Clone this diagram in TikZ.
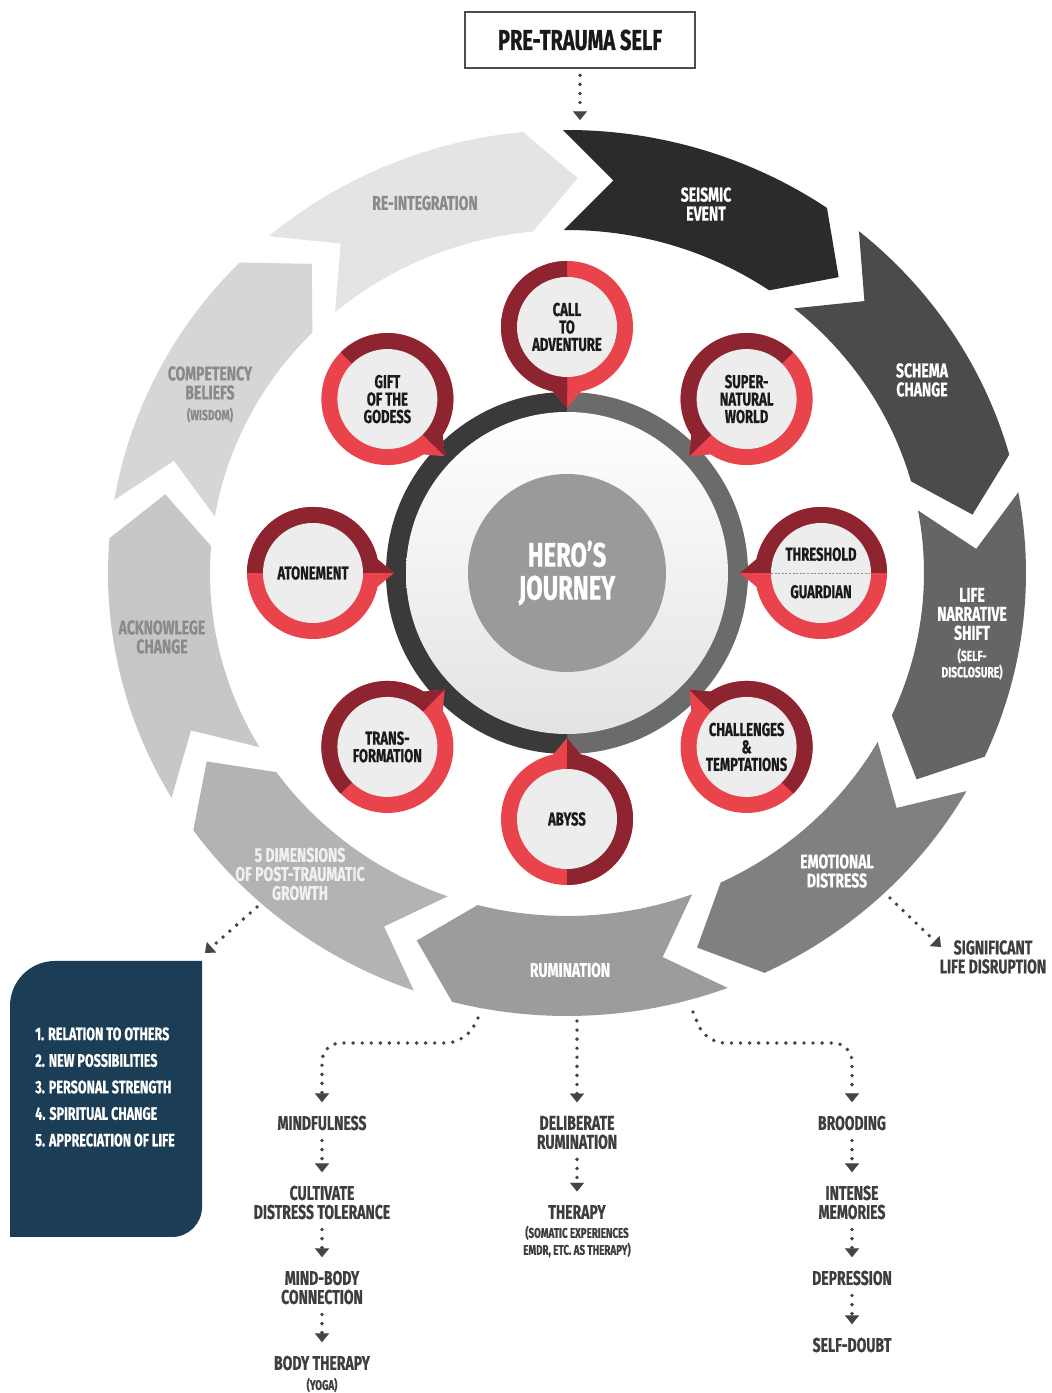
\documentclass[tikz,border=0pt]{standalone}
\usepackage{fontspec}
\setmainfont{Fira Sans}[FakeStretch=0.7, BoldFeatures={FakeBold=0.6}]
\usetikzlibrary{arrows.meta}
\definecolor{cvA}{HTML}{2B2B2B}
\definecolor{cvB}{HTML}{4B4B4B}
\definecolor{cvC}{HTML}{656565}
\definecolor{cvD}{HTML}{808080}
\definecolor{cvE}{HTML}{9C9C9C}
\definecolor{cvF}{HTML}{B3B3B3}
\definecolor{cvG}{HTML}{C7C7C7}
\definecolor{cvH}{HTML}{D6D6D6}
\definecolor{cvI}{HTML}{E4E4E4}
\definecolor{txgray}{HTML}{8A8A8A}
\definecolor{rbright}{HTML}{E9434C}
\definecolor{rdark}{HTML}{8D2430}
\definecolor{disk}{HTML}{EDEDED}
\definecolor{ringL}{HTML}{3A3A3A}
\definecolor{ringR}{HTML}{6B6B6B}
\definecolor{heroG}{HTML}{9A9A9A}
\definecolor{navy}{HTML}{1B3D55}
\definecolor{arrcol}{HTML}{454545}
\definecolor{btcol}{HTML}{3E3E3E}
\definecolor{ctext}{HTML}{1A1A1A}

\newcommand{\redcirc}[5]{%
 \pgfmathsetmacro\rcX{567+254*cos(#2)}%
 \pgfmathsetmacro\rcY{820+246*sin(#2)}%
 \pgfmathsetmacro\rcT{#2+180}%
 \pgfmathsetmacro\rcP{#2+200}%
 \pgfmathsetmacro\rcM{#2+160}%
 \pgfmathsetmacro\rcD{#2+180+#4}%
 \pgfmathsetmacro\rcE{#3+180}%
 \begin{scope}[shift={(\rcX,\rcY)}]
  \fill[rbright] (0,0) circle[radius=66];
  \fill[rbright] (\rcT:81) -- (\rcP:60) -- (\rcM:60) -- cycle;
  \fill[rdark] (0,0) -- (#3:66) arc[start angle=#3,end angle=\rcE,radius=66] -- cycle;
  \fill[rdark] (0,0) -- (\rcT:81) -- (\rcD:60) -- cycle;
  \fill[disk] (0,0) circle[radius=50];
 \end{scope}
 \node[clbl] (#1) at (\rcX,\rcY) {#5};
}

\begin{document}
\begin{tikzpicture}[x=0.75pt,y=0.75pt,
  chl/.style={font=\bfseries\fontsize{15}{14.25}\selectfont, align=center, inner sep=0pt, text=white},
  chs/.style={font=\bfseries\fontsize{11}{10.5}\selectfont, align=center, inner sep=0pt, text=white},
  clbl/.style={font=\bfseries\fontsize{14}{13.1}\selectfont, align=center, inner sep=0pt, text=ctext},
  hero/.style={font=\bfseries\fontsize{25.5}{24.75}\selectfont, align=center, inner sep=0pt, text=white},
  btxt/.style={font=\bfseries\fontsize{15}{14.25}\selectfont, align=center, inner sep=0pt, text=btcol},
  bsm/.style={font=\bfseries\fontsize{10.5}{12.75}\selectfont, align=center, inner sep=0pt, text=btcol},
  lst/.style={font=\bfseries\fontsize{13.5}{19.9}\selectfont, align=left, inner sep=0pt, text=white},
  prebox/.style={draw=black!70, line width=1pt, minimum width=172.5pt, minimum height=42pt, inner sep=0pt,
     font=\bfseries\fontsize{21.5}{24}\selectfont, text=black!90},
  dotarr/.style={draw=arrcol, line width=2.9pt, line cap=round, dash pattern=on 0pt off 6.8pt,
     -{Triangle[width=10.5pt,length=6.5pt,line width=0.01pt]}},
  vdot/.style={dotarr, shorten <=7.5pt, shorten >=10pt}
]
\useasboundingbox (0,0) rectangle (1052,1393);
\fill[white] (0,0) rectangle (1052,1393);

% ---- outer chevron ring
\begin{scope}[shift={(567,820)}]
\foreach \a/\col in {90.5/cvA,50.5/cvB,10.5/cvC,-29.5/cvD,-69.5/cvE,-109.5/cvF,-149.5/cvG,-189.5/cvH,-229.5/cvI}{
 \pgfmathsetmacro\cvb{\a-35}
 \pgfmathsetmacro\cvt{\a-42}
 \pgfmathsetmacro\cvn{\a-7}
 \fill[\col] (\a:459 and 443) arc[start angle=\a,end angle=\cvb,x radius=459,y radius=443]
   -- (\cvt:410 and 395) -- (\cvb:357 and 343)
   arc[start angle=\cvb,end angle=\a,x radius=357,y radius=343]
   -- (\cvn:410 and 395) -- cycle;
}
\end{scope}

% chevron labels
\node[chl] (seis) at (706,1189) {SEISMIC\\EVENT};
\node[chl] (schema) at (922,1013) {SCHEMA\\CHANGE};
\node[chl] (life) at (972,779) {LIFE\\NARRATIVE\\SHIFT};
\node[chs] (lifes) at (972,729) {(SELF-\\DISCLOSURE)};
\node[chl] (emo) at (837,522) {EMOTIONAL\\DISTRESS};
\node[chl] (rum) at (570,423) {RUMINATION};
\node[chl, text=white!94!black] (dim) at (300,519) {5 DIMENSIONS\\OF POST-TRAUMATIC\\GROWTH};
\node[chl, text=txgray] (ack) at (162,756) {ACKNOWLEGE\\CHANGE};
\node[chl, text=txgray] (comp) at (210,1010) {COMPETENCY\\BELIEFS};
\node[chs, text=txgray] (wis) at (210,978) {(WISDOM)};
\node[chl, text=txgray] (reint) at (425,1190) {RE-INTEGRATION};

% ---- central ring
\fill[ringR] (567,1001) arc[start angle=90,end angle=-90,radius=181] -- cycle;
\fill[ringL] (567,1001) arc[start angle=90,end angle=270,radius=181] -- cycle;
\shade[top color=white, bottom color=black!11] (567,820) circle[radius=161];
\fill[heroG] (567,820) circle[radius=99];
\node[hero] (heroj) at (567,820) {HERO’S\\JOURNEY};

% ---- red circles
\redcirc{call}{90}{90}{-20}{CALL\\TO\\ADVENTURE}
\redcirc{super}{45}{45}{-20}{SUPER-\\NATURAL\\WORLD}
\redcirc{thresh}{0}{0}{-20}{THRESHOLD\\[15pt]GUARDIAN}
\redcirc{chall}{-45}{-45}{-20}{CHALLENGES\\\&\\TEMPTATIONS}
\redcirc{abyss}{-90}{-90}{-20}{ABYSS}
\redcirc{trans}{-135}{45}{20}{TRANS-\\FORMATION}
\redcirc{aton}{180}{0}{20}{ATONEMENT}
\redcirc{gift}{135}{-45}{20}{GIFT\\OF THE\\GODESS}
\draw[black!45, line width=0.5pt, dash pattern=on 1.5pt off 1.2pt] (771,820) -- (871,820);

% ---- pre-trauma box
\node[prebox] (pre) at (580,1353) {PRE-TRAUMA SELF};
\coordinate (seisTop) at (580,1273);
\draw[dotarr, shorten <=5pt] (pre.south) -- (seisTop);

% ---- navy box
\fill[navy] (10,156) -- (10,387) arc[start angle=180,end angle=90,radius=45] -- (202,432)
  -- (202,186) arc[start angle=0,end angle=-90,radius=30] -- cycle;
\node[lst, anchor=west] (dims) at (35,306) {1. RELATION TO OTHERS\\2. NEW POSSIBILITIES\\3. PERSONAL STRENGTH\\4. SPIRITUAL CHANGE\\5. APPRECIATION OF LIFE};
\coordinate (dimA) at (257,486);
\coordinate (dimB) at (205,440);
\draw[dotarr] (dimA) -- (dimB);

% ---- significant life disruption
\node[btxt] (sig) at (993,436) {SIGNIFICANT\\LIFE DISRUPTION};
\coordinate (emoA) at (890,495);
\coordinate (emoB) at (941,446);
\draw[dotarr] (emoA) -- (emoB);

% ---- bottom columns
\node[btxt] (mindf) at (322,270) {MINDFULNESS};
\node[btxt] (cult) at (322,190.5) {CULTIVATE\\DISTRESS TOLERANCE};
\node[btxt] (mbody) at (322,105.5) {MIND-BODY\\CONNECTION};
\node[btxt] (bther) at (322,30) {BODY THERAPY};
\node[bsm] (yoga) at (322,8) {(YOGA)};
\node[btxt] (delib) at (577,260.5) {DELIBERATE\\RUMINATION};
\node[btxt] (ther) at (577,181) {THERAPY};
\node[bsm] (somat) at (577,151.5) {(SOMATIC EXPERIENCES\\EMDR, ETC. AS THERAPY)};
\node[btxt] (brood) at (852,270) {BROODING};
\node[btxt] (inten) at (852,190.5) {INTENSE\\MEMORIES};
\node[btxt] (depr) at (852,115) {DEPRESSION};
\node[btxt] (sdoubt) at (852,48) {SELF-DOUBT};

\coordinate (rumL) at (478,375);
\coordinate (rumM) at (577,372);
\coordinate (rumR) at (693,381);
\draw[dotarr, rounded corners=14pt, shorten >=10pt] (rumL) -- (465,350) -- (322,350) -- (mindf.north);
\draw[dotarr, shorten >=10pt] (rumM) -- (delib.north);
\draw[dotarr, rounded corners=14pt, shorten >=10pt] (rumR) -- (706,350) -- (852,350) -- (brood.north);

\draw[vdot] (mindf.south) -- (cult.north);
\draw[vdot] (cult.south) -- (mbody.north);
\draw[vdot] (mbody.south) -- (bther.north);
\draw[vdot] (delib.south) -- (ther.north);
\draw[vdot] (brood.south) -- (inten.north);
\draw[vdot] (inten.south) -- (depr.north);
\draw[vdot] (depr.south) -- (sdoubt.north);
\end{tikzpicture}
\end{document}
